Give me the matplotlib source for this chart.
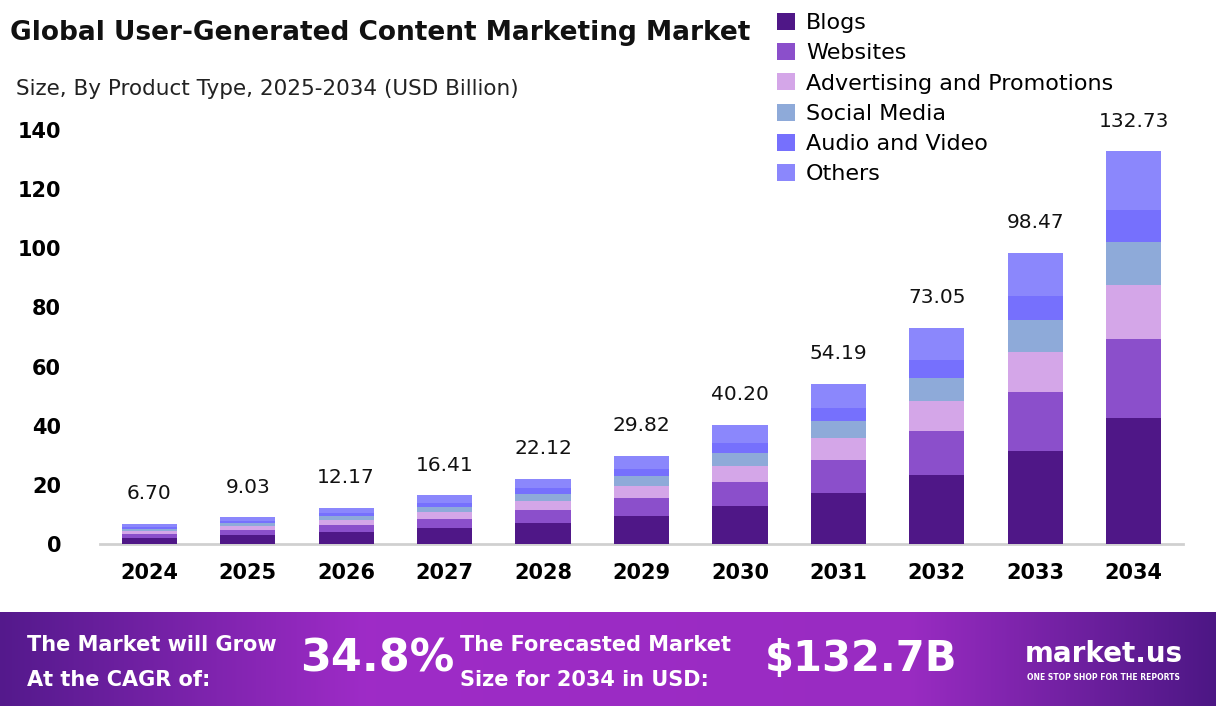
import matplotlib
matplotlib.use("Agg")
import matplotlib.pyplot as plt
import numpy as np

years = ["2024","2025","2026","2027","2028","2029","2030","2031","2032","2033","2034"]
totals = [6.70,9.03,12.17,16.41,22.12,29.82,40.20,54.19,73.05,98.47,132.73]
blogs = [2.15,2.90,3.91,5.27,7.10,9.57,12.90,17.40,23.45,31.61,42.6]
websites = [1.35,1.82,2.45,3.30,4.45,5.99,8.08,10.89,14.68,19.79,26.7]
advertising = [0.92,1.25,1.68,2.26,3.05,4.12,5.55,7.48,10.08,13.59,18.3]
social = [0.73,0.98,1.33,1.79,2.41,3.25,4.38,5.91,7.96,10.73,14.5]
audio = [0.55,0.74,1.00,1.35,1.81,2.45,3.30,4.44,5.99,8.07,10.9]
others = [1.00,1.34,1.80,2.44,3.30,4.44,5.99,8.07,10.89,14.68,19.73]
series = [("Blogs", blogs, "#4f1787"), ("Websites", websites, "#8b4fcb"),
          ("Advertising and Promotions", advertising, "#d4a6e8"),
          ("Social Media", social, "#8eaad9"), ("Audio and Video", audio, "#7670fd"),
          ("Others", others, "#8b87fc")]
yticks = [0,20,40,60,80,100,120,140]

W, H = 1216, 706
fig = plt.figure(figsize=(W/100, H/100), dpi=100)
ax = fig.add_axes([100/W, 1-544/H, 1083/W, 428.8/H])
x = np.arange(len(years))
bottom = np.zeros(len(years))
handles = []
for name, vals, c in series:
    b = ax.bar(x, vals, 0.56, bottom=bottom, color=c, label=name, zorder=3)
    handles.append(b)
    bottom += np.array(vals)
for xi, t in zip(x, totals):
    ax.text(xi, t + 7, f"{t:.2f}", ha="center", va="bottom", fontsize=14.5, color="#111")
ax.set_xlim(-0.5, len(years)-0.5)
ax.set_ylim(0, 145)
ax.set_yticks(yticks)
ax.set_xticks(x)
ax.set_xticklabels(years, fontsize=15, fontweight="bold")
for lab in ax.get_yticklabels():
    lab.set_fontsize(15); lab.set_fontweight("bold")
ax.tick_params(length=0, pad=14)
ax.tick_params(axis="y", pad=28)
for s in ["top", "right", "left"]:
    ax.spines[s].set_visible(False)
ax.spines["bottom"].set_color("#d0d0d0")
ax.spines["bottom"].set_linewidth(2)

fig.text(10/W, 1-33/H, "Global User-Generated Content Marketing Market", fontsize=19, fontweight="bold", va="center", color="#111")
fig.text(16/W, 1-89/H, "Size, By Product Type, 2025-2034 (USD Billion)", fontsize=15.5, va="center", color="#222")
fig.legend(handles=handles, loc="upper left", bbox_to_anchor=(768/W, 1-4/H), frameon=False,
           fontsize=16, handlelength=0.8, handleheight=0.8, handletextpad=0.5, labelspacing=0.45,
           borderaxespad=0)

# footer banner
bax = fig.add_axes([0, 0, 1, 94/H])
grad = np.linspace(0, 1, 512)
cols = np.array([[0.33,0.10,0.55],[0.62,0.17,0.78],[0.60,0.17,0.76],[0.30,0.09,0.52]])
pos = [0, 0.3, 0.75, 1]
img = np.stack([np.interp(grad, pos, cols[:, k]) for k in range(3)], axis=-1)[None, :, :]
bax.imshow(img, aspect="auto", extent=[0, 1, 0, 1])
bax.set_axis_off()
bax.set_xlim(0, 1); bax.set_ylim(0, 1)
tk = dict(color="white", fontweight="bold", va="center")
bax.text(27/W, 0.65, "The Market will Grow", fontsize=15, **tk)
bax.text(27/W, 0.28, "At the CAGR of:", fontsize=15, **tk)
bax.text(300/W, 0.5, "34.8%", fontsize=32, **tk)
bax.text(460/W, 0.65, "The Forecasted Market", fontsize=15, **tk)
bax.text(460/W, 0.28, "Size for 2034 in USD:", fontsize=15, **tk)
bax.text(765/W, 0.5, "$132.7B", fontsize=30, **tk)
bax.text(1025/W, 0.55, "market.us", fontsize=20, **tk)
bax.text(1027/W, 0.3, "ONE STOP SHOP FOR THE REPORTS", fontsize=5.5, **tk)

fig.savefig("out.png", dpi=100, facecolor="white")
